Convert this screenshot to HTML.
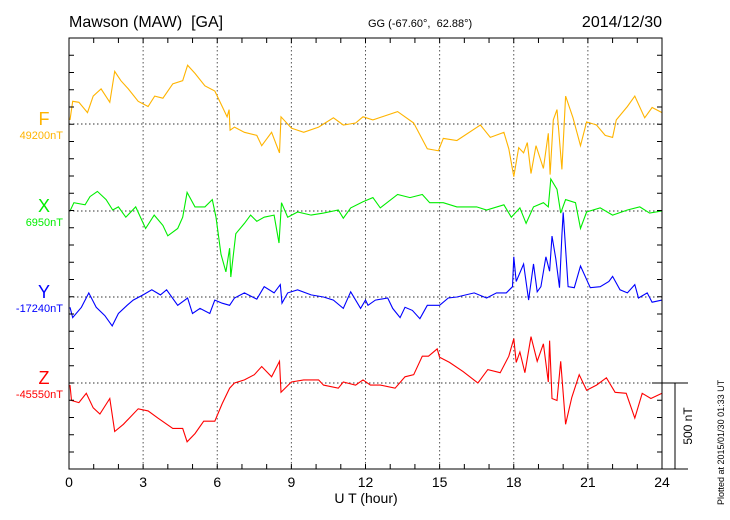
<!DOCTYPE html>
<html><head><meta charset="utf-8"><style>
html,body{margin:0;padding:0;background:#fff;}
svg{display:block;font-family:"Liberation Sans",sans-serif;}
text{white-space:pre;}
</style></head><body>
<svg id="chart" width="730" height="520" viewBox="0 0 730 520" xmlns="http://www.w3.org/2000/svg">
<text x="69" y="27" font-size="16" xml:space="preserve">Mawson (MAW)  [GA]</text>
<text x="368" y="27" font-size="11" xml:space="preserve">GG (-67.60°,  62.88°)</text>
<text x="662" y="27" font-size="16" text-anchor="end">2014/12/30</text>
<text x="366" y="503" font-size="14" text-anchor="middle">U T (hour)</text>
<text transform="translate(724,505) rotate(-90)" font-size="9">Plotted at 2015/01/30 01:33 UT</text>
<text transform="translate(692,426) rotate(-90)" font-size="12" text-anchor="middle">500 nT</text>
<g id="grid"></g><g id="series"></g><g id="axes"></g><g id="labels"></g>
</svg>
<script>
const hourTicks = [0,3,6,9,12,15,18,21,24];
const fHours = [0.04,0.15,0.4,0.75,0.98,1.3,1.65,1.85,2.1,2.4,2.8,3.2,3.47,3.8,4.2,4.6,4.8,5.1,5.5,5.9,6.2,6.4,6.48,6.52,6.7,7.1,7.6,7.8,8.2,8.52,8.58,9.0,9.5,10.1,10.7,11.1,11.6,11.9,12.3,13.3,13.95,14.5,14.95,15.15,15.7,16.65,17.05,17.6,17.8,18.0,18.2,18.4,18.55,18.7,18.9,19.2,19.4,19.47,19.6,19.75,19.95,20.1,20.4,20.7,20.95,21.35,21.7,22.0,22.15,22.6,22.9,23.3,23.6,24.0];
const fValues = [24,132,126,66,162,204,126,306,252,204,132,102,162,150,234,252,342,294,222,192,102,42,84,-36,-18,-48,-66,-126,-48,-168,42,-24,-48,-18,36,-6,6,42,24,72,6,-144,-156,-84,-96,-6,-78,-48,-144,-306,-138,-168,-108,-288,-126,-258,-54,-294,24,84,-264,162,36,-126,12,-6,-66,-78,24,102,162,36,96,66];
const xHours = [0.04,0.2,0.65,0.85,1.15,1.5,1.77,2.0,2.3,2.7,3.1,3.45,3.8,4.0,4.4,4.6,4.78,5.1,5.5,5.8,5.95,6.15,6.35,6.5,6.55,6.75,7.1,7.35,7.6,7.9,8.3,8.5,8.6,8.85,9.25,9.8,10.3,10.9,11.1,11.4,11.9,12.3,12.6,13.3,13.8,14.3,14.6,15.15,15.7,16.5,16.9,17.6,17.9,18.25,18.5,18.8,19.2,19.4,19.5,19.75,19.9,20.1,20.5,20.7,20.95,21.5,22.0,22.6,23.1,23.5,24.0];
const xValues = [0,48,36,84,114,66,6,24,-36,24,-102,-24,-84,-144,-102,-36,108,24,24,66,-36,-252,-354,-216,-384,-132,-72,-24,-60,-36,-24,-186,48,-36,-6,-24,-12,6,-42,18,54,78,18,96,78,96,48,48,24,24,6,36,-36,18,-72,24,48,24,186,126,-12,66,48,-102,-6,18,-24,6,24,-12,0];
const yHours = [0.04,0.15,0.5,0.8,1.1,1.45,1.75,2.0,2.35,2.6,3.0,3.35,3.7,3.95,4.4,4.8,5.0,5.3,5.7,5.9,6.2,6.5,6.7,7.1,7.6,7.9,8.3,8.55,8.62,8.85,9.25,9.8,10.3,10.7,11.1,11.4,11.8,12.0,12.1,12.4,12.9,13.1,13.4,13.6,13.9,14.2,14.5,15.0,15.35,15.7,16.4,16.9,17.3,17.7,17.95,18.0,18.1,18.4,18.6,18.8,18.95,19.1,19.3,19.45,19.55,19.7,19.85,19.95,20.0,20.2,20.45,20.7,21.1,21.5,21.85,22.0,22.3,22.6,22.9,23.05,23.4,23.6,24.0];
const yValues = [-60,-120,-60,24,-60,-108,-168,-96,-48,-18,12,42,12,42,-48,-6,-96,-66,-96,-18,-36,-48,-6,24,-12,60,24,72,-36,24,42,12,0,-18,-66,30,-66,-18,-48,-18,-6,-66,-120,-60,-78,-126,-48,-48,-6,0,24,-6,24,24,60,234,90,192,-18,192,30,60,234,150,354,222,54,360,492,60,54,180,54,60,90,120,42,24,72,-6,24,-30,-18];
const zHours = [0.04,0.1,0.4,0.7,0.98,1.25,1.65,1.85,2.2,2.8,3.2,3.6,4.2,4.6,4.78,5.1,5.45,5.9,6.2,6.5,6.7,7.1,7.5,7.8,8.2,8.52,8.58,9.0,9.5,10.1,10.3,10.9,11.1,11.6,11.9,12.2,12.6,13.2,13.6,13.95,14.3,14.55,14.9,15.0,15.4,15.95,16.55,16.95,17.45,17.8,18.0,18.1,18.25,18.45,18.7,18.95,19.2,19.4,19.45,19.55,19.75,19.9,20.1,20.35,20.65,20.95,21.35,21.75,22.1,22.55,22.9,23.2,23.55,24.0];
const zValues = [-12,-102,-114,-60,-144,-180,-90,-282,-240,-150,-162,-204,-264,-264,-342,-294,-222,-222,-120,-30,0,18,48,96,36,126,-54,6,18,18,-12,-30,6,-12,18,-12,-12,-30,36,48,156,156,198,150,120,66,0,78,60,156,258,120,180,60,270,126,228,6,246,-90,-102,126,-240,-84,48,-42,-12,30,-54,-60,-204,-60,-90,-60];
const baselineLabels = ["49200nT","6950nT","-17240nT","-45550nT"];
const componentNames = ["F","X","Y","Z"];

const NS="http://www.w3.org/2000/svg";
const L=69,R=662,T=38,B=469;
const baseY=[124,211,297,383];
const colors=["#ffb400","#00ee00","#0000ff","#ff0000"];
const pxPerNT=86/500;
const xs=h=>L+(R-L)*h/24;
const ys=(i,v)=>baseY[i]-v*pxPerNT;
function mk(tag,attrs,parent){const e=document.createElementNS(NS,tag);for(const k in attrs)e.setAttribute(k,attrs[k]);parent.appendChild(e);return e;}
const grid=document.getElementById('grid'),axes=document.getElementById('axes'),ser=document.getElementById('series'),lab=document.getElementById('labels');

hourTicks.forEach(h=>{
  if(h>0&&h<24){const g=mk('line',{x1:xs(h),x2:xs(h),y1:T,y2:B,stroke:'#555','stroke-width':1,'stroke-dasharray':'1.5,2.5'},grid);
  
  }
  const t=mk('text',{x:xs(h),y:487,'font-size':14,'text-anchor':'middle'},lab);
  t.textContent=h;
  
  
});
baseY.forEach((y,i)=>{
  const g=mk('line',{x1:L,x2:R,y1:y,y2:y,stroke:'#333','stroke-width':1,'stroke-dasharray':'1.5,2.5'},grid);
  
  
  const c=mk('text',{x:44,y:y+1,'font-size':18,'text-anchor':'middle',fill:colors[i]},lab);
  c.textContent=componentNames[i];
  
  
  const b=mk('text',{x:63,y:y+15,'font-size':11,'text-anchor':'end',fill:colors[i]},lab);
  b.textContent=baselineLabels[i];
  
  
});
const hs=[fHours,xHours,yHours,zHours],vs=[fValues,xValues,yValues,zValues],nm=['f-series','x-series','y-series','z-series'];
hs.forEach((H,i)=>{
  const d=H.map((h,k)=>(k?'L':'M')+xs(h).toFixed(1)+','+ys(i,vs[i][k]).toFixed(1)).join('');
  const p=mk('path',{d:d,fill:'none',stroke:colors[i],'stroke-width':1.1},ser);
  
  
});
const frame=mk('rect',{x:L,y:T,width:R-L,height:B-T,fill:'none',stroke:'#000','stroke-width':1},axes);


let tk='';
for(let h=0;h<=24;h++){const x=xs(h);tk+=`M${x},${T}v5M${x},${B}v-5`;}
for(let y=T+17.25;y<B-1;y+=17.25){tk+=`M${L},${y}h5M${R},${y}h-5`;}
const ticks=mk('path',{d:tk,stroke:'#000','stroke-width':1},axes);


const sb=mk('path',{d:`M${R-10},383H688M675,383V${B}M${R},${B}H688`,stroke:'#000','stroke-width':1,fill:'none'},axes);


</script>
</body></html>
